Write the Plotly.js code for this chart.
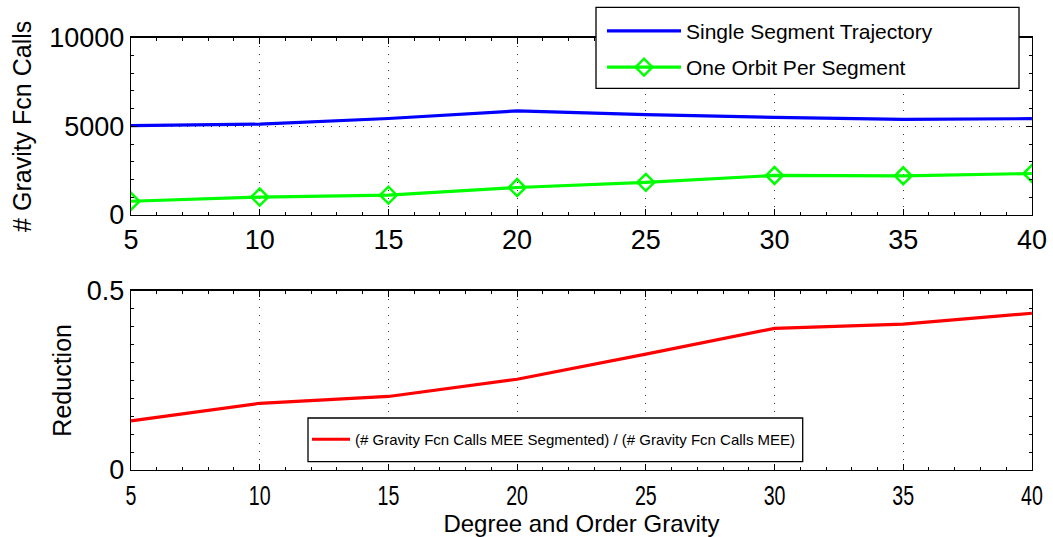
<!DOCTYPE html>
<html>
<head>
<meta charset="utf-8">
<script src="https://cdn.plot.ly/plotly-3.0.1.min.js"></script>
<style>html,body{margin:0;padding:0;background:#fff;}#chart{width:1053px;height:537px;}</style>
</head>
<body>
<div id="chart"></div>
<script>
const degree = [5, 10, 15, 20, 25, 30, 35, 40];
const singleSegmentCalls = [5040, 5120, 5440, 5870, 5660, 5500, 5390, 5430];
const oneOrbitPerSegmentCalls = [775, 1010, 1120, 1550, 1840, 2230, 2210, 2340];
const reduction = [0.137, 0.186, 0.205, 0.253, 0.323, 0.395, 0.407, 0.437];
const topYTicks = [0, 5000, 10000];
const bottomYTicks = [0, 0.5];
const xTicks = [5, 10, 15, 20, 25, 30, 35, 40];

const FONT = 'Liberation Sans, Arial, Helvetica, sans-serif';

const traces = [
  {x: degree, y: singleSegmentCalls, type: 'scatter', mode: 'lines', name: 'Single Segment Trajectory',
   line: {color: '#0000ff', width: 3.2}, xaxis: 'x', yaxis: 'y', legend: 'legend', legendgroup: 'a'},
  {x: degree, y: oneOrbitPerSegmentCalls, type: 'scatter', mode: 'lines+markers', name: 'One Orbit Per Segment',
   line: {color: '#00ff00', width: 3.2}, marker: {symbol: 'diamond-open', size: 13, color: '#00ff00', line: {width: 2.5, color: '#00ff00'}},
   xaxis: 'x', yaxis: 'y', legend: 'legend', legendgroup: 'b'},
  {x: degree, y: reduction, type: 'scatter', mode: 'lines', name: '(# Gravity Fcn Calls MEE Segmented) / (# Gravity Fcn Calls MEE)',
   line: {color: '#ff0000', width: 3.2}, xaxis: 'x2', yaxis: 'y2', legend: 'legend2'}
];

const axisBase = {
  showline: true, mirror: 'ticks', linecolor: '#000', linewidth: 1.3,
  ticks: 'inside', ticklen: 6, tickcolor: '#000', tickwidth: 1,
  showgrid: true, gridcolor: '#333', griddash: '1.5px,6.5px', gridwidth: 1,
  zeroline: false, fixedrange: true
};

const layout = {
  width: 1053, height: 537,
  margin: {l: 0, r: 0, t: 0, b: 0},
  paper_bgcolor: '#fff', plot_bgcolor: '#fff',
  font: {family: FONT, color: '#000'},
  showlegend: true,
  xaxis: Object.assign({}, axisBase, {
    domain: [0.1244, 0.980], anchor: 'y', range: [5, 40], tickvals: xTicks,
    ticktext: xTicks.map(String), tickfont: {size: 27, family: FONT},
    minor: {ticks: 'inside', ticklen: 3, dtick: 1, tickcolor: '#000', showgrid: false}
  }),
  yaxis: Object.assign({}, axisBase, {
    domain: [0.5996, 0.930], anchor: 'x', range: [0, 10000], tickvals: topYTicks,
    ticktext: topYTicks.map(String), tickfont: {size: 27, family: FONT},
    minor: {ticks: 'inside', ticklen: 3, dtick: 1000, tickcolor: '#000', showgrid: false},
    title: {text: '# Gravity Fcn Calls', font: {size: 25, family: FONT}, standoff: 10}
  }),
  xaxis2: Object.assign({}, axisBase, {
    domain: [0.1244, 0.980], anchor: 'y2', range: [5, 40], tickvals: xTicks,
    ticktext: xTicks.map(String), tickfont: {size: 28, family: FONT},
    minor: {ticks: 'inside', ticklen: 3, dtick: 1, tickcolor: '#000', showgrid: false},
    title: {text: 'Degree and Order Gravity', font: {size: 24, family: FONT}, standoff: 3}
  }),
  yaxis2: Object.assign({}, axisBase, {
    domain: [0.1248, 0.4587], anchor: 'x2', range: [0, 0.5], tickvals: bottomYTicks,
    ticktext: ['0', '0.5'], tickfont: {size: 27, family: FONT}, showgrid: false,
    minor: {ticks: 'inside', ticklen: 3, dtick: 0.05, tickcolor: '#000', showgrid: false},
    title: {text: 'Reduction', font: {size: 25, family: FONT}, standoff: 8}
  }),
  shapes: [
    {type: 'rect', xref: 'paper', yref: 'paper', x0: 596 / 1053, x1: 1019 / 1053, y0: 1 - 88.3 / 537, y1: 1 - 7.3 / 537,
     fillcolor: '#fff', line: {color: '#000', width: 1.3}, layer: 'above'},
    {type: 'rect', xref: 'paper', yref: 'paper', x0: 308 / 1053, x1: 802.7 / 1053, y0: 1 - 461.7 / 537, y1: 1 - 418 / 537,
     fillcolor: '#fff', line: {color: '#000', width: 1.3}, layer: 'above'}
  ],
  legend: {
    x: 602 / 1053, y: 1 - 10.7 / 537, xanchor: 'left', yanchor: 'top',
    bgcolor: 'rgba(0,0,0,0)', borderwidth: 0, traceorder: 'grouped', tracegroupgap: 6,
    font: {size: 21, family: FONT}, itemwidth: 74
  },
  legend2: {
    x: 307 / 1053, y: 1 - 423 / 537, xanchor: 'left', yanchor: 'top',
    bgcolor: 'rgba(0,0,0,0)', borderwidth: 0,
    font: {size: 15, family: FONT}, itemwidth: 38
  }
};

Plotly.newPlot('chart', traces, layout, {displayModeBar: false, staticPlot: true}).then(function (gd) {
  // the reference draws the lower x tick labels in a condensed face
  gd.querySelectorAll('g.xaxislayer-above g.x2tick text').forEach(function (t) {
    const w = t.getComputedTextLength();
    t.setAttribute('textLength', String(w * 0.7));
    t.setAttribute('lengthAdjust', 'spacingAndGlyphs');
  });
});
</script>
</body>
</html>
